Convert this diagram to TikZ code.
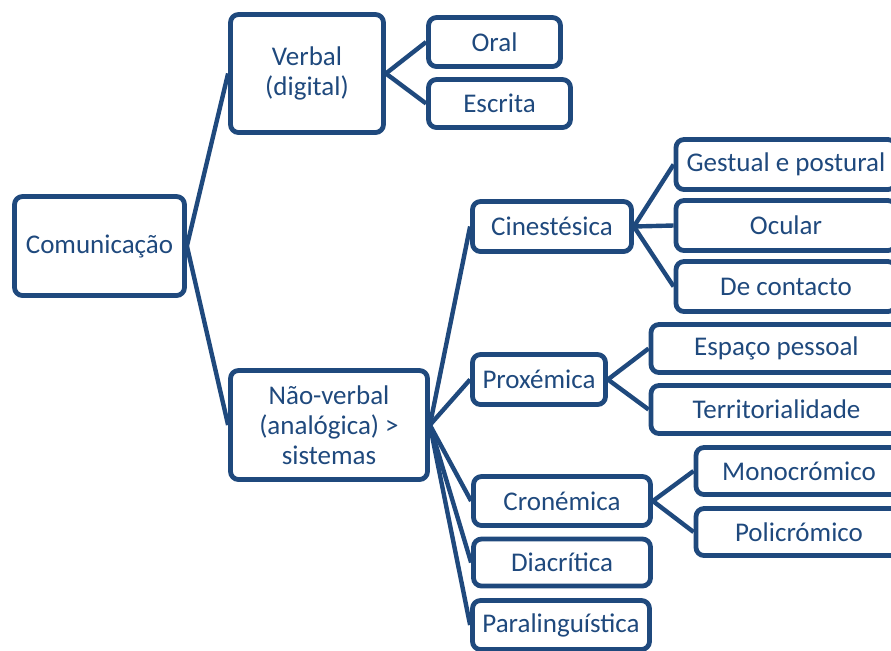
\documentclass[tikz,border=0pt]{standalone}
\usepackage{fontspec}
\setmainfont{Carlito}
\usepackage{tikz}
\usetikzlibrary{positioning}
\definecolor{smartblue}{RGB}{31,73,125}

\begin{document}
\begin{tikzpicture}[x=0.5pt, y=-0.5pt, node distance=30.5pt, line width=2.2pt,
    box/.style={draw=smartblue, rounded corners=4pt, line width=2.4pt, text=smartblue,
        align=center, inner sep=0pt, font=\fontsize{13.5}{15}\selectfont},
    link/.style={draw=smartblue, line width=2.2pt}]
    \useasboundingbox (0,0) rectangle (891,650);

    \node[box, minimum width=85pt, minimum height=49.5pt] (com) at (99.5,246) {Comunicação};

    \node[box, minimum width=76.5pt, minimum height=59pt] (verbal) at (307,73.5) {Verbal\\(digital)};
    \node[box, minimum width=66pt, minimum height=24.5pt] (oral) at (494.5,42) {Oral};
    \node[box, minimum width=71pt, minimum height=24pt] (escrita) at (499.5,103.5) {Escrita};

    \node[box, minimum width=98.5pt, minimum height=54.5pt] (nao) at (329,425) {Não-verbal\\(analógica) >\\sistemas};

    \node[box, minimum width=79.5pt, minimum height=25pt] (cine) at (552,226.5) {Cinestésica};
    \node[box, minimum width=110pt, minimum height=25pt] (gest) at (786,164.5) {Gestual e postural};
    \node[box, minimum width=110pt, minimum height=25pt, below of=gest] (ocular) {Ocular};
    \node[box, minimum width=110pt, minimum height=25pt, below of=ocular] (contacto) {De contacto};

    \node[box, minimum width=66.5pt, minimum height=25pt] (prox) at (539,379.5) {Proxémica};
    \node[box, minimum width=125.5pt, minimum height=24pt] (espaco) at (776.5,348.5) {Espaço pessoal};
    \node[box, minimum width=125.5pt, minimum height=24pt, below of=espaco] (territ) {Territorialidade};

    \node[box, minimum width=88.5pt, minimum height=24.5pt] (crono) at (562,501) {Cronémica};
    \node[box, minimum width=103pt, minimum height=23.5pt] (mono) at (799,471) {Monocrómico};
    \node[box, minimum width=103pt, minimum height=23.5pt, below of=mono] (poli) {Policrómico};
    \node[box, minimum width=88.5pt, minimum height=23.5pt] (diacr) at (562,562.5) {Diacrítica};
    \node[box, minimum width=88.5pt, minimum height=24.5pt] (paral) at (561,625) {Paralinguística};

    \draw[link]
            (com.east) edge (verbal.west)
            (com.east) edge (nao.west)

            (verbal.east) edge (oral.west)
            (verbal.east) edge (escrita.west)

            (nao.east) edge (cine.west)
            (nao.east) edge (prox.west)
            (nao.east) edge (crono.west)
            (nao.east) edge (diacr.west)
            (nao.east) edge (paral.west)

            (cine.east) edge (gest.west)
            (cine.east) edge (ocular.west)
            (cine.east) edge (contacto.west)

            (prox.east) edge (espaco.west)
            (prox.east) edge (territ.west)

            (crono.east) edge (mono.west)
            (crono.east) edge (poli.west)
            ;
\end{tikzpicture}
\end{document}
